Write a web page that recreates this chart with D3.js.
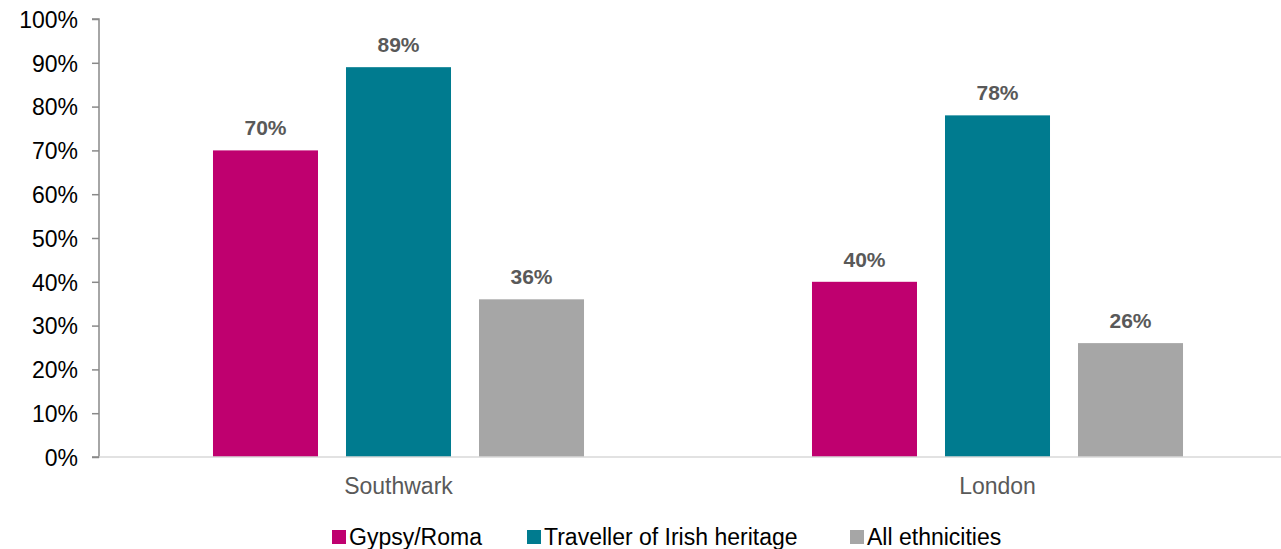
<!DOCTYPE html>
<html>
<head>
<meta charset="utf-8">
<script src="https://cdn.jsdelivr.net/npm/d3@7"></script>
<style>
  html, body { margin: 0; padding: 0; background: #fff; }
  svg { display: block; font-family: Arial, "Liberation Sans", sans-serif; }
</style>
</head>
<body>
<svg id="chart" width="1281" height="549"></svg>
<script>
// Chart data
const categories = ["Southwark", "London"];
const seriesNames = ["Gypsy/Roma", "Traveller of Irish heritage", "All ethnicities"];
const gypsyRoma = [70, 40];
const travellerIrish = [89, 78];
const allEthnicities = [36, 26];
const yTicks = [0, 10, 20, 30, 40, 50, 60, 70, 80, 90, 100];
const seriesColors = ["#bf006f", "#007b8f", "#a6a6a6"];

const seriesValues = [gypsyRoma, travellerIrish, allEthnicities];

const svg = d3.select("#chart");

const plotLeft = 99, plotRight = 1297, plotTop = 19, plotBottom = 457;

const y = d3.scaleLinear().domain([0, 100]).range([plotBottom, plotTop]);
const x0 = d3.scaleBand().domain(categories).range([plotLeft, plotRight]);
const x1 = d3.scaleBand().domain(seriesNames).range([0, x0.bandwidth()])
  .paddingInner(0.2105).paddingOuter(0.857);

// Y axis
const yAxis = d3.axisLeft(y).tickValues(yTicks).tickSize(7).tickPadding(14)
  .tickFormat(d => d + "%");
const gy = svg.append("g").attr("transform", `translate(${plotLeft},0)`).call(yAxis);
gy.select(".domain").attr("stroke", "#898989").attr("stroke-width", 1.5)
  .attr("d", `M-7,${plotTop}H0V${plotBottom}H-7`);
gy.selectAll(".tick line").attr("stroke", "#898989").attr("stroke-width", 1.5);
gy.selectAll(".tick text").attr("fill", "#000").style("font-size", "23px")
  .attr("font-family", "Arial, 'Liberation Sans', sans-serif").attr("dy", "0.36em");

// Bars
const groups = svg.append("g").selectAll("g").data(categories).join("g")
  .attr("transform", d => `translate(${x0(d)},0)`);

groups.selectAll("rect")
  .data((c, ci) => seriesNames.map((s, si) => ({ s, si, v: seriesValues[si][ci] })))
  .join("rect")
  .attr("x", d => x1(d.s))
  .attr("width", x1.bandwidth())
  .attr("y", d => y(d.v))
  .attr("height", d => y(0) - y(d.v))
  .attr("fill", d => seriesColors[d.si]);

// Value labels
groups.selectAll("text.val")
  .data((c, ci) => seriesNames.map((s, si) => ({ s, si, v: seriesValues[si][ci] })))
  .join("text")
  .attr("class", "val")
  .attr("x", d => x1(d.s) + x1.bandwidth() / 2)
  .attr("y", d => y(d.v) - 15)
  .attr("text-anchor", "middle")
  .attr("fill", "#595959")
  .style("font-size", "21px")
  .style("font-weight", "bold")
  .text(d => d.v + "%");

// X axis baseline
svg.append("line")
  .attr("x1", plotLeft).attr("x2", 1281)
  .attr("y1", y(0)).attr("y2", y(0))
  .attr("stroke", "#d9d9d9").attr("stroke-width", 1.5);

// Category labels
svg.append("g").selectAll("text").data(categories).join("text")
  .attr("x", d => x0(d) + x0.bandwidth() / 2)
  .attr("y", 494)
  .attr("text-anchor", "middle")
  .attr("fill", "#595959")
  .style("font-size", "23px")
  .text(d => d);

// Legend
const legendX = [332, 527, 850];
const legend = svg.append("g").selectAll("g").data(seriesNames).join("g")
  .attr("transform", (d, i) => `translate(${legendX[i]},0)`);
legend.append("rect")
  .attr("x", 0).attr("y", 530).attr("width", 14).attr("height", 14)
  .attr("fill", (d, i) => seriesColors[i]);
legend.append("text")
  .attr("x", 17).attr("y", 545)
  .attr("fill", "#000")
  .style("font-size", "23px")
  .text(d => d);
</script>
</body>
</html>
